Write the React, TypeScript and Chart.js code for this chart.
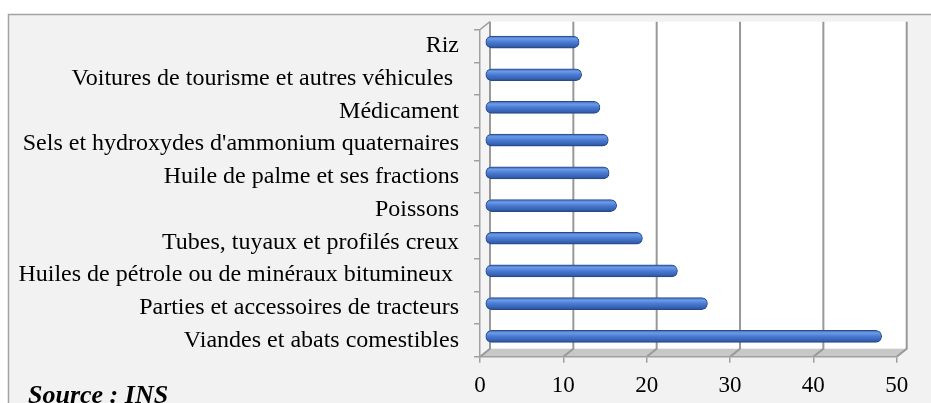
import React, { useEffect, useRef } from "react";
import { Chart, registerables } from "chart.js";

Chart.register(...registerables);

const CATEGORIES: string[] = [
  "Riz",
  "Voitures de tourisme et autres véhicules ",
  "Médicament",
  "Sels et hydroxydes d'ammonium quaternaires",
  "Huile de palme et ses fractions",
  "Poissons",
  "Tubes, tuyaux et profilés creux",
  "Huiles de pétrole ou de minéraux bitumineux ",
  "Parties et accessoires de tracteurs",
  "Viandes et abats comestibles",
];
const VALUES: number[] = [11.3, 11.6, 13.8, 14.8, 14.9, 15.8, 18.9, 23.1, 26.7, 47.6];
const X_MIN = 0;
const X_MAX = 50;
const X_STEP = 10;
const SOURCE_TEXT = "Source : INS";

const DX = 10;
const DY = -8;
const FONT = "'Times New Roman', 'Liberation Serif', serif";

const threeD = {
  id: "threeD",
  beforeDraw(chart: any) {
    const ctx = chart.ctx as CanvasRenderingContext2D;
    const { left, right, top, bottom } = chart.chartArea;
    const xs = chart.scales.x;
    ctx.save();
    ctx.fillStyle = "#ffffff";
    ctx.fillRect(0, 0, chart.width, chart.height);
    ctx.fillStyle = "#f2f2f2";
    ctx.fillRect(8, 14, chart.width, chart.height);
    ctx.strokeStyle = "#a3a3a3";
    ctx.lineWidth = 1.5;
    ctx.beginPath();
    ctx.moveTo(8.5, chart.height + 5);
    ctx.lineTo(8.5, 14.5);
    ctx.lineTo(chart.width + 5, 14.5);
    ctx.stroke();

    ctx.fillStyle = "#ffffff";
    ctx.fillRect(left + DX, top + DY, right - left, bottom - top);
    ctx.fillStyle = "#f4f4f4";
    ctx.beginPath();
    ctx.moveTo(left, top);
    ctx.lineTo(left + DX, top + DY);
    ctx.lineTo(left + DX, bottom + DY);
    ctx.lineTo(left, bottom);
    ctx.closePath();
    ctx.fill();
    ctx.fillStyle = "#c8c8c8";
    ctx.beginPath();
    ctx.moveTo(left, bottom);
    ctx.lineTo(right, bottom);
    ctx.lineTo(right + DX, bottom + DY);
    ctx.lineTo(left + DX, bottom + DY);
    ctx.closePath();
    ctx.fill();

    ctx.strokeStyle = "#999999";
    ctx.lineWidth = 2;
    for (let v = X_MIN; v <= X_MAX; v += X_STEP) {
      const x = xs.getPixelForValue(v);
      ctx.beginPath();
      ctx.moveTo(x + DX, top + DY);
      ctx.lineTo(x + DX, bottom + DY);
      ctx.lineTo(x, bottom);
      ctx.stroke();
    }
    ctx.lineWidth = 1.5;
    ctx.strokeStyle = "#a0a0a0";
    ctx.beginPath();
    ctx.moveTo(left, top);
    ctx.lineTo(left + DX, top + DY);
    ctx.stroke();
    ctx.restore();
  },
  beforeDatasetsDraw(chart: any) {
    chart.ctx.save();
    chart.ctx.translate(DX / 2, DY / 2);
  },
  afterDatasetsDraw(chart: any) {
    chart.ctx.restore();
  },
  afterDraw(chart: any) {
    const ctx = chart.ctx as CanvasRenderingContext2D;
    ctx.save();
    ctx.fillStyle = "#000000";
    ctx.font = `italic bold 26px ${FONT}`;
    ctx.textBaseline = "alphabetic";
    ctx.textAlign = "left";
    ctx.fillText(SOURCE_TEXT, 28, 403);
    ctx.restore();
  },
};

export default function App() {
  const ref = useRef<HTMLCanvasElement | null>(null);
  useEffect(() => {
    if (!ref.current) return;
    const BAR_H = 12;
    const chart = new Chart(ref.current, {
      type: "bar",
      data: {
        labels: CATEGORIES,
        datasets: [
          {
            data: VALUES,
            barThickness: BAR_H,
            borderWidth: 1,
            borderColor: "#2a4a8a",
            borderRadius: 6,
            borderSkipped: false,
            backgroundColor: (c: any) => {
              const ys = c.chart.scales && c.chart.scales.y;
              if (!ys || c.dataIndex === undefined) return "#4472c4";
              const y = ys.getPixelForValue(c.dataIndex);
              if (!isFinite(y)) return "#4472c4";
              const g = c.chart.ctx.createLinearGradient(0, y - BAR_H / 2, 0, y + BAR_H / 2);
              g.addColorStop(0, "#3f68b6");
              g.addColorStop(0.22, "#6b9be8");
              g.addColorStop(0.5, "#4a7bd2");
              g.addColorStop(0.85, "#3560b0");
              g.addColorStop(1, "#25478b");
              return g;
            },
          },
        ],
      },
      options: {
        indexAxis: "y",
        responsive: false,
        animation: false,
        layout: { padding: { left: 8, right: 34.3, top: 29.7, bottom: 0 } },
        plugins: { legend: { display: false }, tooltip: { enabled: false }, title: { display: false } },
        scales: {
          x: {
            min: X_MIN,
            max: X_MAX,
            ticks: { stepSize: X_STEP, color: "#000", font: { family: FONT, size: 23 }, padding: 9 },
            grid: { drawOnChartArea: false, drawTicks: true, tickLength: 6, color: "#a0a0a0", lineWidth: 1.5 },
            border: { display: true, color: "#a0a0a0", width: 1.5 },
            afterFit: (s: any) => {
              s.height = 46.3;
            },
          },
          y: {
            ticks: { color: "#000", font: { family: FONT, size: 24 }, padding: 15, autoSkip: false },
            grid: { offset: true, drawOnChartArea: false, drawTicks: true, tickLength: 6, color: "#a0a0a0", lineWidth: 1.5 },
            border: { display: true, color: "#a0a0a0", width: 1.5 },
            afterFit: (s: any) => {
              s.width = 472;
            },
          },
        },
      },
      plugins: [threeD],
    } as any);
    return () => chart.destroy();
  }, []);
  return (
    <div style={{ position: "fixed", left: 0, top: 0, width: 931, height: 403 }}>
      <canvas ref={ref} width={931} height={403} style={{ display: "block" }} />
    </div>
  );
}
